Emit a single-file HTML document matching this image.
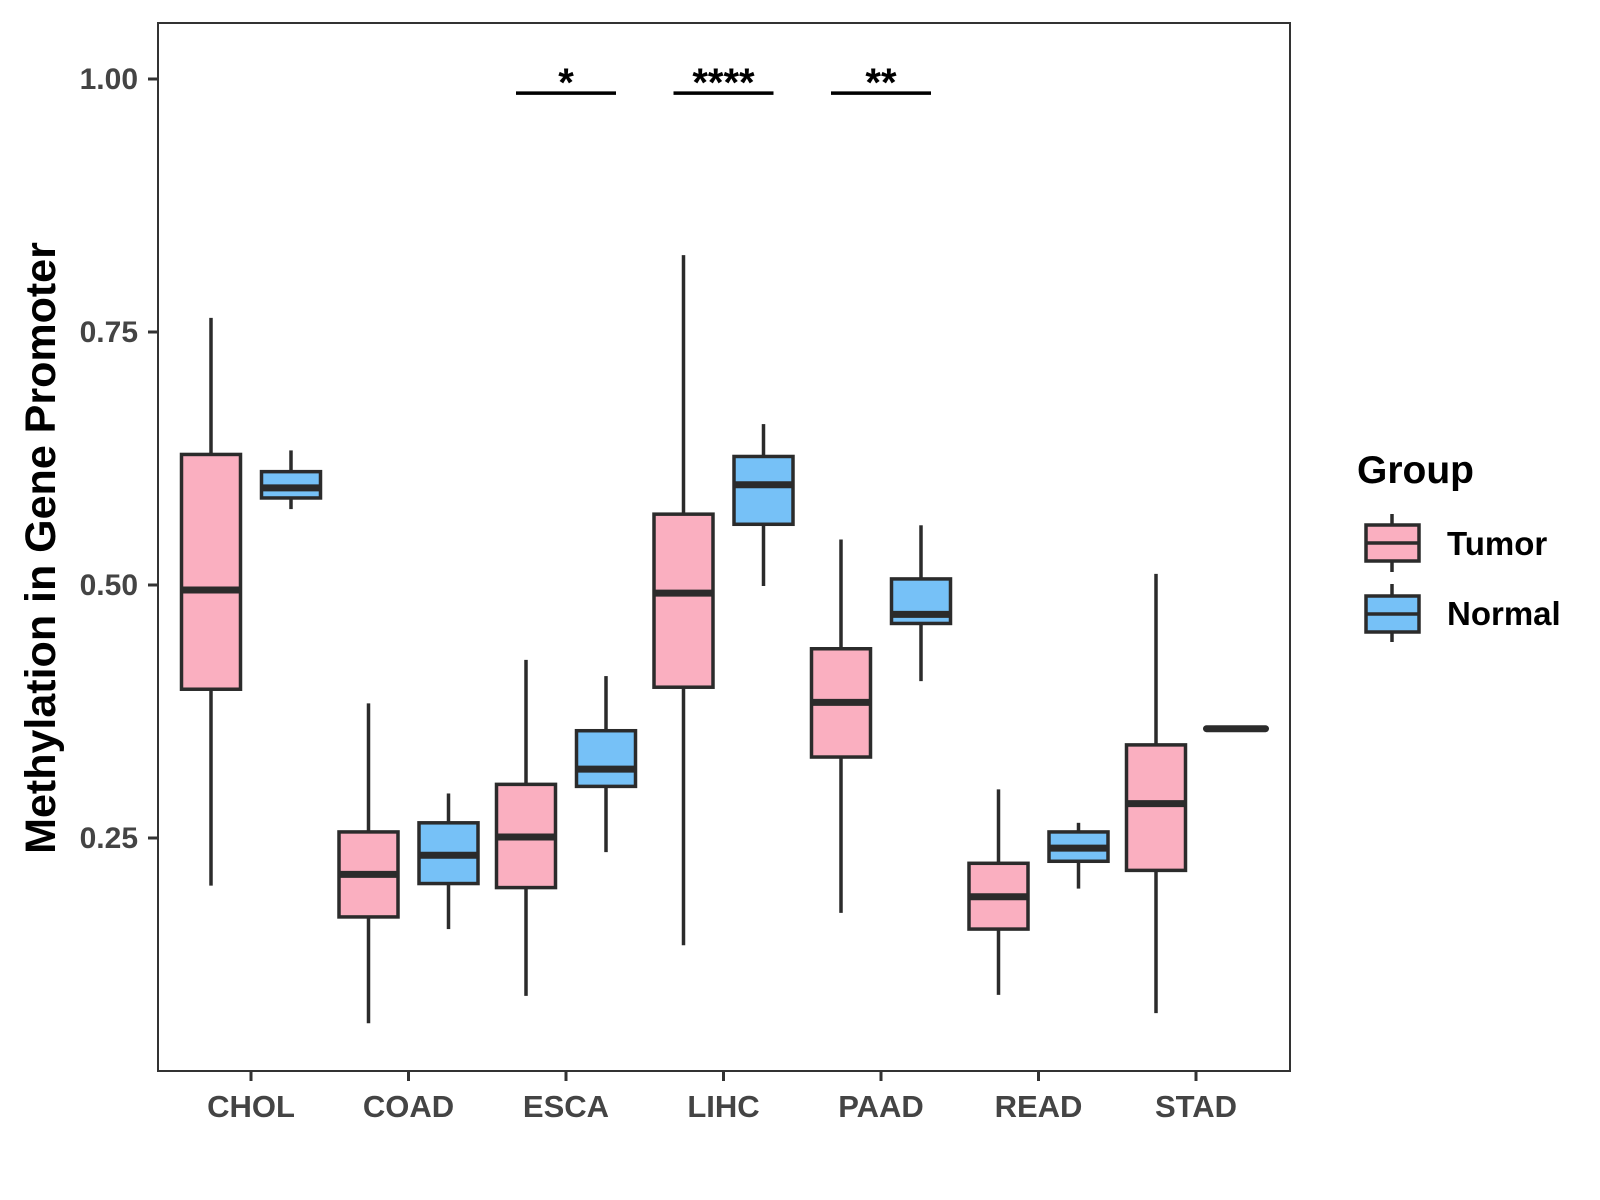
<!DOCTYPE html>
<html><head><meta charset="utf-8"><style>
html,body{margin:0;padding:0;background:#fff;}
svg{display:block;}
text{font-family:"Liberation Sans",Arial,sans-serif;font-weight:bold;}
</style></head><body>
<svg id="chart" width="1600" height="1200" viewBox="0 0 1600 1200" xmlns="http://www.w3.org/2000/svg">
<rect x="0" y="0" width="1600" height="1200" fill="#fff"/>
<g id="marks"></g>
<rect x="158" y="23" width="1132" height="1048" fill="none" stroke="#333" stroke-width="2"/>
<g id="yaxis"></g>
<g id="xaxis"></g>
<text transform="translate(55,548) rotate(-90)" text-anchor="middle" font-size="43" fill="#000">Methylation in Gene Promoter</text>
<g>
<text x="1357" y="483" font-size="39" fill="#000">Group</text>
<g>
<line x1="1392" y1="514" x2="1392" y2="572" stroke="#2b2b2b" stroke-width="3.5"/>
<rect x="1366" y="525" width="53" height="36" fill="#FAAFC0" stroke="#2b2b2b" stroke-width="3.5"/>
<line x1="1366" y1="543" x2="1419" y2="543" stroke="#2b2b2b" stroke-width="3.5"/>
<text x="1447" y="555" font-size="33" fill="#000">Tumor</text>
</g>
<g>
<line x1="1392" y1="584" x2="1392" y2="642" stroke="#2b2b2b" stroke-width="3.5"/>
<rect x="1366" y="596" width="53" height="36" fill="#76C1F7" stroke="#2b2b2b" stroke-width="3.5"/>
<line x1="1366" y1="614" x2="1419" y2="614" stroke="#2b2b2b" stroke-width="3.5"/>
<text x="1447" y="625" font-size="33" fill="#000">Normal</text>
</g>
</g>
</svg>
<script>
const categories = ["CHOL","COAD","ESCA","LIHC","PAAD","READ","STAD"];
// [min, q1, median, q3, max]
const tumorStats = [
 [0.203,0.397,0.495,0.629,0.764],
 [0.067,0.172,0.214,0.256,0.383],
 [0.094,0.201,0.251,0.303,0.426],
 [0.144,0.399,0.492,0.570,0.826],
 [0.176,0.330,0.384,0.437,0.545],
 [0.095,0.160,0.192,0.225,0.298],
 [0.077,0.218,0.284,0.342,0.511]
];
const normalStats = [
 [0.575,0.586,0.596,0.612,0.633],
 [0.160,0.205,0.233,0.265,0.294],
 [0.236,0.301,0.318,0.356,0.410],
 [0.499,0.560,0.599,0.627,0.659],
 [0.405,0.462,0.471,0.506,0.559],
 [0.200,0.227,0.240,0.256,0.265],
 [0.358,0.358,0.358,0.358,0.358]
];
const yTicks = [0.25,0.50,0.75,1.00];
const yTickLabels = ["0.25","0.50","0.75","1.00"];
const sigCategories = ["ESCA","LIHC","PAAD"];
const sigLabels = ["*","****","**"];
const sigLevel = 0.986;

const NS="http://www.w3.org/2000/svg";
function y(v){return 79+(1-v)*1012;}
function x(i){return 251+i*157.5;}
const DODGE=40, BW=59, INK="#2b2b2b";
function mk(tag,attrs,parent){const e=document.createElementNS(NS,tag);for(const k in attrs)e.setAttribute(k,attrs[k]);parent.appendChild(e);return e;}
const marks=document.getElementById('marks');
function drawBox(s,cx,fill,name){
  const g=mk('g',{},marks);
  
  
  if(s[0]===s[4]){
    mk('line',{x1:cx-BW/2,x2:cx+BW/2,y1:y(s[2]),y2:y(s[2]),stroke:INK,'stroke-width':7,'stroke-linecap':'round'},g);
    return;
  }
  mk('line',{x1:cx,x2:cx,y1:y(s[4]),y2:y(s[3]),stroke:INK,'stroke-width':3.5},g);
  mk('line',{x1:cx,x2:cx,y1:y(s[1]),y2:y(s[0]),stroke:INK,'stroke-width':3.5},g);
  mk('rect',{x:cx-BW/2,y:y(s[3]),width:BW,height:y(s[1])-y(s[3]),fill:fill,stroke:INK,'stroke-width':3.5},g);
  mk('line',{x1:cx-BW/2,x2:cx+BW/2,y1:y(s[2]),y2:y(s[2]),stroke:INK,'stroke-width':7},g);
}
categories.forEach((c,i)=>{
  drawBox(tumorStats[i],x(i)-DODGE,"#FAAFC0","box-tumor-"+c.toLowerCase());
  drawBox(normalStats[i],x(i)+DODGE,"#76C1F7","box-normal-"+c.toLowerCase());
});
sigCategories.forEach((c,k)=>{
  const i=categories.indexOf(c);
  const g=mk('g',{},marks);
  
  
  mk('line',{x1:x(i)-50,x2:x(i)+50,y1:y(sigLevel),y2:y(sigLevel),stroke:"#000",'stroke-width':3.5},g);
  const t=mk('text',{x:x(i),y:y(sigLevel)+3,'text-anchor':'middle','font-size':40,fill:"#000"},g);
  t.textContent=sigLabels[k];
});
const ya=document.getElementById('yaxis');
yTicks.forEach((v,k)=>{
  const tk=mk('line',{x1:148,x2:158,y1:y(v),y2:y(v),stroke:"#333",'stroke-width':3},ya);
  
  
  const t=mk('text',{x:138,y:y(v)+10,'text-anchor':'end','font-size':30,fill:"#444"},ya);
  
  
  t.textContent=yTickLabels[k];
});
const xa=document.getElementById('xaxis');
categories.forEach((c,i)=>{
  const tk=mk('line',{x1:x(i),x2:x(i),y1:1071,y2:1081,stroke:"#333",'stroke-width':3},xa);
  
  
  const t=mk('text',{x:x(i),y:1117,'text-anchor':'middle','font-size':31,fill:"#444"},xa);
  
  
  t.textContent=c;
});
</script>
</body></html>
